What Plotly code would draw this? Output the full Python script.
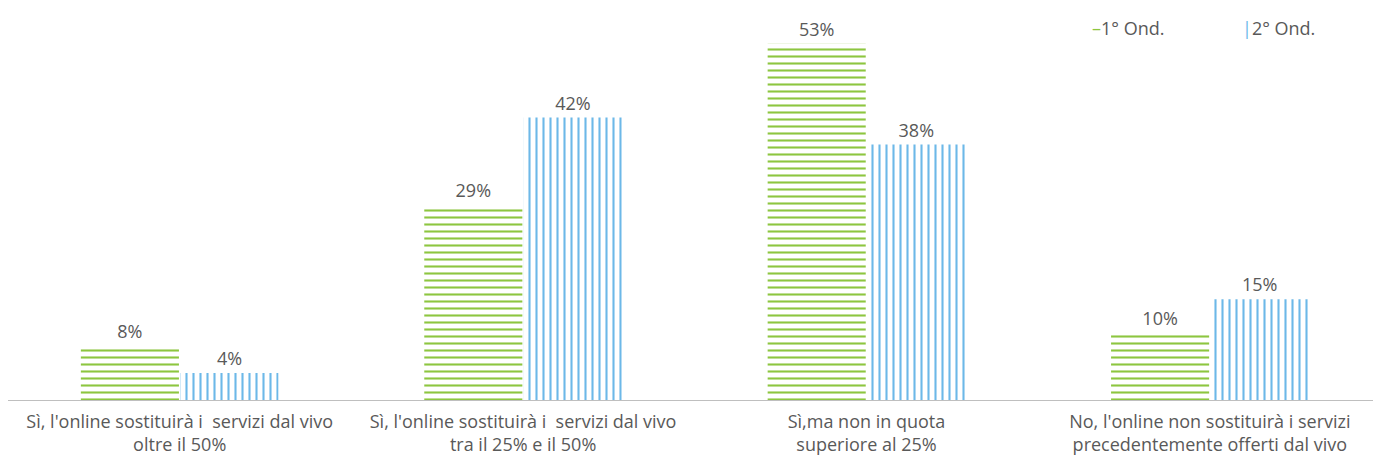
import plotly.graph_objects as go

# Survey answers (x categories, two-line tick labels)
categories = [
    "Sì, l'online sostituirà i  servizi dal vivo<br>oltre il 50%",
    "Sì, l'online sostituirà i  servizi dal vivo<br>tra il 25% e il 50%",
    "Sì,ma non in quota<br>superiore al 25%",
    "No, l'online non sostituirà i servizi<br>precedentemente offerti dal vivo",
]
wave1 = [8, 29, 53, 10]
wave2 = [4, 42, 38, 15]
series_names = ["1° Ond.", "2° Ond."]

GREEN = "#8DC63F"
BLUE = "#6CB8E8"
TEXT = "#595959"
FONT = "Open Sans"
FS = 18

fig = go.Figure()
for vals, name, color, shape in [
    (wave1, series_names[0], GREEN, "-"),
    (wave2, series_names[1], BLUE, "|"),
]:
    fig.add_trace(go.Bar(
        x=list(range(len(categories))),
        y=vals,
        name=name,
        text=[f"{v}%" for v in vals],
        textposition="outside",
        textfont=dict(family=FONT, size=FS, color=TEXT),
        cliponaxis=False,
        marker=dict(
            color="white",
            line=dict(width=0),
            pattern=dict(shape=shape, fgcolor=color, bgcolor="white",
                         size=7, solidity=0.3, fillmode="replace"),
        ),
        showlegend=False,
    ))

fig.update_layout(
    width=1373, height=458,
    margin=dict(l=8, r=0, t=4, b=58),
    paper_bgcolor="white", plot_bgcolor="white",
    barmode="group", bargap=0.42, bargroupgap=0.015,
    font=dict(family=FONT, size=FS, color=TEXT),
    uniformtext=dict(mode=False),
    xaxis=dict(
        tickmode="array",
        tickvals=list(range(len(categories))),
        ticktext=categories,
        range=[-0.5, 3.475],
        showline=True, linecolor="#BFBFBF", linewidth=1,
        showgrid=False, zeroline=False, ticks="",
        ticklabelstandoff=5,
        automargin=False,
        tickfont=dict(family=FONT, size=FS, color=TEXT),
    ),
    yaxis=dict(range=[0, 58.9], visible=False, showgrid=False, zeroline=False,
               automargin=False),
    showlegend=False,
)

# Legend drawn as text with coloured glyphs
fig.add_annotation(
    xref="paper", yref="paper", x=(1090 - 8) / 1365, y=1.0, yanchor="top",
    xanchor="left", showarrow=False, yshift=-10,
    text=f"<span style='color:{GREEN}'>–</span>{series_names[0]}",
    font=dict(family=FONT, size=FS, color=TEXT),
)
fig.add_annotation(
    xref="paper", yref="paper", x=(1240 - 8) / 1365, y=1.0, yanchor="top",
    xanchor="left", showarrow=False, yshift=-10,
    text=f"<span style='color:{BLUE}'>|</span>{series_names[1]}",
    font=dict(family=FONT, size=FS, color=TEXT),
)

fig.write_html("out.html")
